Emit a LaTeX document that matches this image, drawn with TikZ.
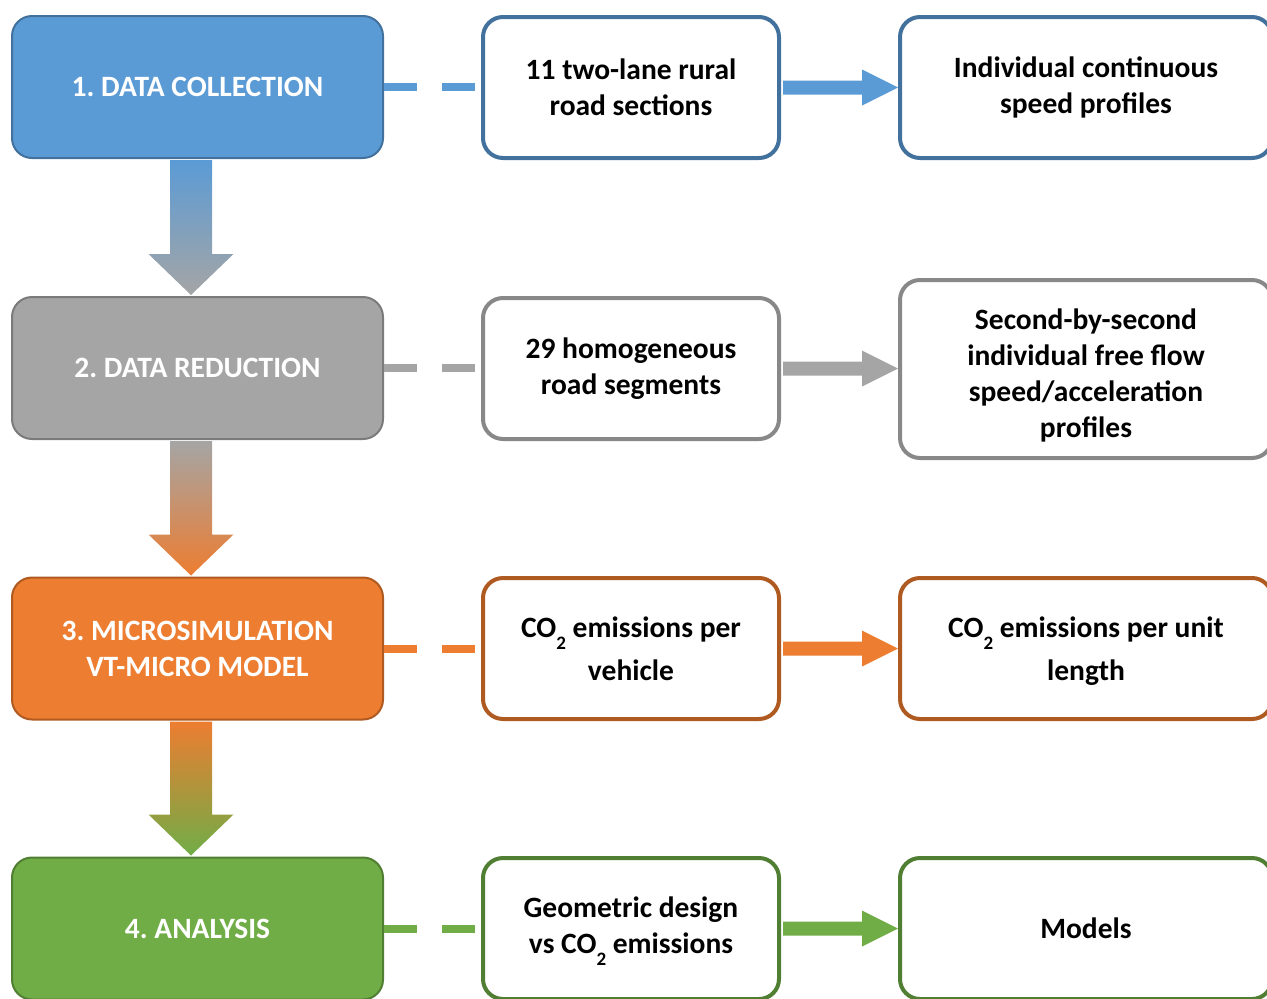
\documentclass[tikz,border=0pt]{standalone}
\usepackage{fontspec}
\setmainfont{Carlito}
\usetikzlibrary{calc}
\definecolor{blueF}{HTML}{5B9BD5}\definecolor{blueD}{HTML}{41719C}
\definecolor{grayF}{HTML}{A5A5A5}\definecolor{grayD}{HTML}{7B7B7B}
\definecolor{orangeF}{HTML}{ED7D31}\definecolor{orangeD}{HTML}{AE5A21}
\definecolor{greenF}{HTML}{70AD47}\definecolor{greenD}{HTML}{507E32}
\newcommand{\cotwo}{CO\raisebox{-0.42em}[0pt][0pt]{\fontsize{19}{19}\selectfont 2}}
\frenchspacing
\begin{document}
\begin{tikzpicture}[x=1pt,y=-1pt,
  txt/.style={font=\fontsize{29.5}{36}\selectfont\bfseries\frenchspacing, align=center, inner sep=0pt},
  leftbox/.style={txt, draw=#1D, fill=#1F, line width=2pt, rounded corners=20pt,
    minimum width=371pt, minimum height=142pt, text=white},
  midbox/.style={txt, draw=#1D, fill=white, line width=4pt, rounded corners=20pt,
    minimum width=296pt, minimum height=141pt},
  rightbox/.style={txt, draw=#1D, fill=white, line width=4pt, rounded corners=20pt,
    minimum width=372pt, minimum height=141pt},
  dashcon/.style={draw=#1F, line width=8pt, dash pattern=on 33pt off 25pt},
]
\useasboundingbox (0,0) rectangle (1267,999);
\clip (0,0) rectangle (1267,999);

% left column
\node[leftbox=blue]   (l1) at (197.5,87)  {1. DATA COLLECTION};
\node[leftbox=gray]   (l2) at (197.5,368) {2. DATA REDUCTION};
\node[leftbox=orange] (l3) at (197.5,648.5) {3. MICROSIMULATION\\VT-MICRO MODEL};
\node[leftbox=green]  (l4) at (197.5,928.5) {4. ANALYSIS};

% middle column
\node[midbox=blue]   (m1) at (631,87.5)  {11 two-lane rural\\road sections};
\node[midbox=gray, draw=grayD!90!white] (m2) at (631,368.5) {29 homogeneous\\road segments};
\node[midbox=orange] (m3) at (631,648.5) {\rule{0pt}{20pt}\cotwo{} emissions per\\[7pt]vehicle};
\node[midbox=green]  (m4) at (631,928.5) {Geometric design\\vs \cotwo{} emissions\rule[-7pt]{0pt}{0pt}};

% right column
\node[rightbox=blue]   (r1) at (1086,87.5)  {Individual continuous\\speed profiles};
\node[rightbox=gray, draw=grayD!90!white, minimum height=178pt] (r2) at (1086,369)
  {\parbox{330pt}{\centering\vspace*{12pt}Second-by-second\\individual free flow\\speed/acceleration\\profiles}};
\node[rightbox=orange] (r3) at (1086,648.5) {\rule{0pt}{20pt}\cotwo{} emissions per unit\\[7pt]\raisebox{0pt}[\height][0pt]{length}};
\node[rightbox=green]  (r4) at (1086,928.5) {Models};

% dashed connectors
\draw[dashcon=blue]   (l1.east) -- (m1.west |- l1.east);
\draw[dashcon=gray]   (l2.east) -- (m2.west |- l2.east);
\draw[dashcon=orange] (l3.east) -- (m3.west |- l3.east);
\draw[dashcon=green]  (l4.east) -- (m4.west |- l4.east);

% horizontal block arrows
\foreach \a/\b/\c in {m1/r1/blueF, m2/r2/grayF, m3/r3/orangeF, m4/r4/greenF}{
  \fill[\c] ($(\a.east)+(2,-7)$) -- ($(\b.west |- \a.east)+(-36,-7)$)
     -- ($(\b.west |- \a.east)+(-36,-18)$) -- ($(\b.west |- \a.east)+(0,0)$)
     -- ($(\b.west |- \a.east)+(-36,18)$) -- ($(\b.west |- \a.east)+(-36,7)$)
     -- ($(\a.east)+(2,7)$) -- cycle;
}

% vertical block arrows
\foreach \a/\b/\ct/\cb in {l1/l2/blueF/grayF, l2/l3/grayF/orangeF, l3/l4/orangeF/greenF}{
  \shade[top color=\ct, bottom color=\cb]
     ($(\a.south)+(-27.5,1)$) -- ($(\b.north)+(-27.5,-42)$) -- ($(\b.north)+(-49,-42)$)
     -- ($(\b.north)+(-6.5,-1)$) -- ($(\b.north)+(36,-42)$) -- ($(\b.north)+(14.5,-42)$)
     -- ($(\a.south)+(14.5,1)$) -- cycle;
}
\end{tikzpicture}
\end{document}
